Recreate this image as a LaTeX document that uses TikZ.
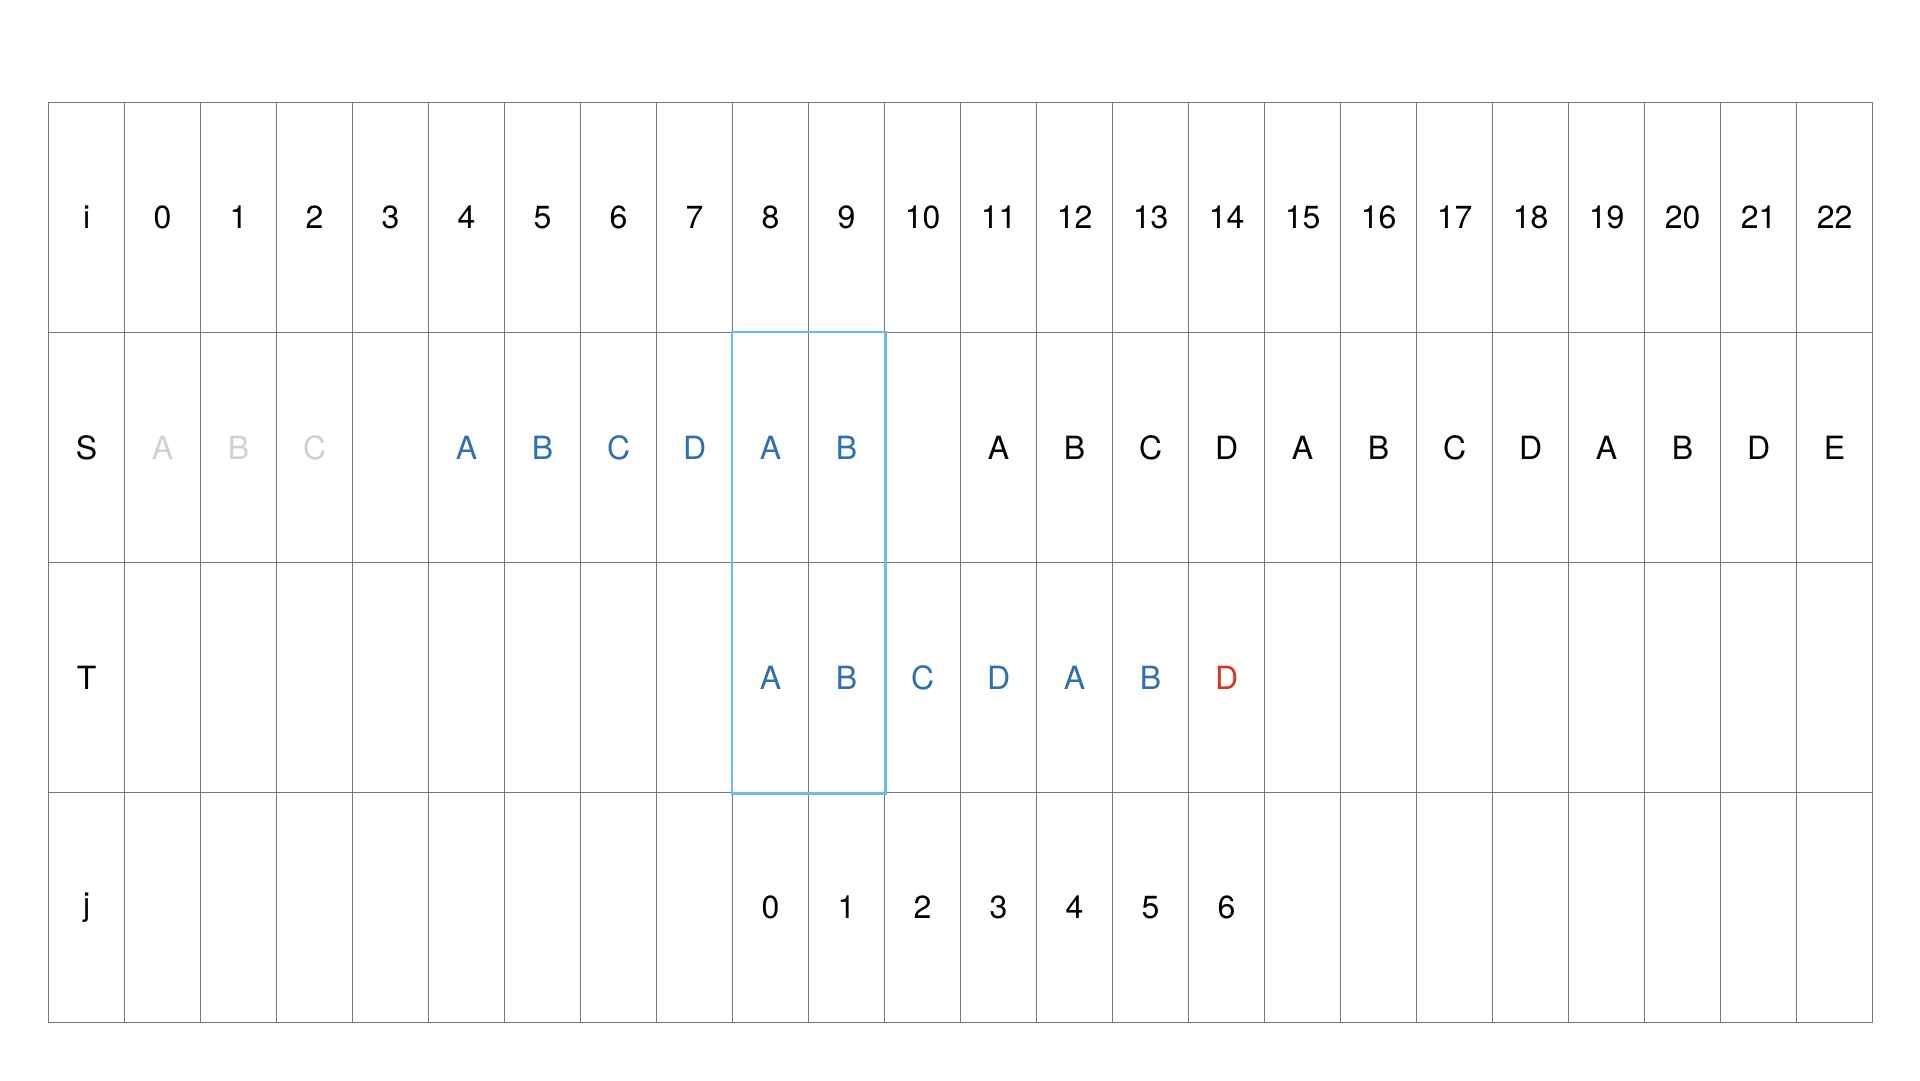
\documentclass[tikz,border=0pt]{standalone}
\usepackage{fontspec}
\setmainfont{TeX Gyre Heros}
\usetikzlibrary{positioning, fit}

\definecolor{gridgray}{RGB}{112,122,134}
\definecolor{seenblue}{RGB}{45,110,180}
\definecolor{fadedgray}{RGB}{208,208,208}
\definecolor{missred}{RGB}{220,50,35}
\definecolor{windowblue}{RGB}{110,185,245}
\newcommand\cellfont{\fontsize{32}{38}\selectfont}

\tikzset{
  cell/.style={draw=gridgray, line width=1.2pt, minimum width=76pt, minimum height=230pt, inner sep=0pt, anchor=north west, font=\cellfont},
  letter/.style={inner sep=0pt, font=\cellfont},
  window/.style={draw=windowblue, line width=2.6pt, inner sep=0pt}
}

\begin{document}
\begin{tikzpicture}[x=1pt, y=-1pt]
    \useasboundingbox (0,0) rectangle (1920,1080);

    % row labels
    \foreach \r [count=\y from 0] in {i,S,T,j}
        \node[cell] (\r-lab) at (48,{102+230*\y}) {\r};

    % index row
    \foreach \c in {0,...,22}
        \node[cell] (i-\c) at ({124+76*\c},102) {\c};

    % source row
    \foreach \c/\t/\k in {0/A/fadedgray,1/B/fadedgray,2/C/fadedgray,3//black,
                          4/A/seenblue,5/B/seenblue,6/C/seenblue,7/D/seenblue,8/A/seenblue,9/B/seenblue,10//black,
                          11/A/black,12/B/black,13/C/black,14/D/black,15/A/black,16/B/black,17/C/black,
                          18/D/black,19/A/black,20/B/black,21/D/black,22/E/black}
        \node[cell, text=\k] (S-\c) at ({124+76*\c},332) {\t};

    % empty cells of T and j
    \foreach \c in {0,...,22} {
        \node[cell] (T-\c) at ({124+76*\c},562) {};
        \node[cell] (j-\c) at ({124+76*\c},792) {};
    }

    % pattern row
    \foreach \c/\t/\k in {8/A/seenblue,9/B/seenblue,10/C/seenblue,11/D/seenblue,12/A/seenblue,13/B/seenblue,14/D/missred}
        \node[letter, text=\k] (T-\c txt) at (T-\c) {\t};

    % pattern index
    \foreach \c [count=\n from 0] in {8,...,14}
        \node[letter] (j-\c txt) at (j-\c) {\n};

    \node[window, fit=(S-8)(T-9)] (match window) {};
\end{tikzpicture}
\end{document}
